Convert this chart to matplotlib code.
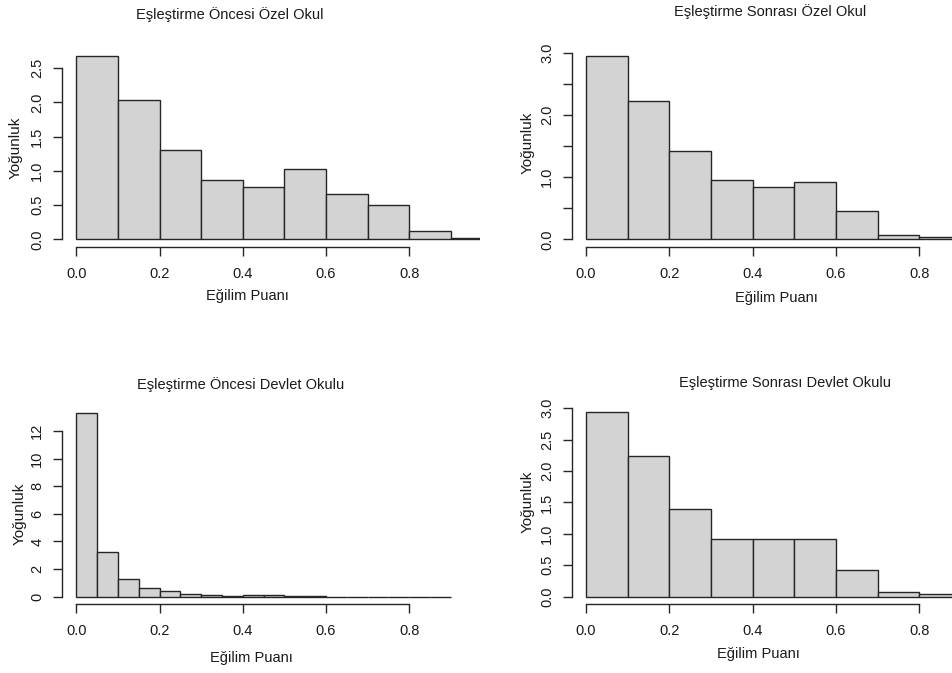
import matplotlib
matplotlib.use("Agg")
import matplotlib.pyplot as plt
import numpy as np
from matplotlib import font_manager

# --- data (density per bin) ---
bins_a = np.round(np.arange(0, 1.01, 0.1), 2)
ozel_once = [2.68, 2.03, 1.30, 0.86, 0.765, 1.02, 0.66, 0.50, 0.126, 0.012]

bins_b = np.round(np.arange(0, 0.91, 0.1), 2)
ozel_sonra = [2.956, 2.235, 1.43, 0.95, 0.845, 0.93, 0.46, 0.065, 0.043]

bins_c = np.round(np.arange(0, 0.91, 0.05), 2)
devlet_once = [13.32, 3.26, 1.26, 0.62, 0.38, 0.20, 0.12, 0.05, 0.12, 0.12,
               0.05, 0.05, 0.0, 0.0, 0.0, 0.0, 0.0, 0.0]

bins_d = np.round(np.arange(0, 0.91, 0.1), 2)
devlet_sonra = [2.935, 2.245, 1.40, 0.924, 0.924, 0.924, 0.43, 0.07, 0.048]

xticks = [0.0, 0.2, 0.4, 0.6, 0.8]

W, H = 953, 673
names = {f.name for f in font_manager.fontManager.ttflist}
FONT = "Liberation Sans Narrow" if "Liberation Sans Narrow" in names else "Liberation Sans"
plt.rcParams["font.family"] = [FONT, "DejaVu Sans"]
TXT = "#1a1a1a"

fig = plt.figure(figsize=(W / 100, H / 100), dpi=100)


def px(x, y):
    return x / W, 1 - y / H


def panel(box, xlim, ylim, edges, dens, yticks, ylabels, title, tpos, xlpos, ylpos, xoff, yoff):
    left, top, right, bottom = box
    ax = fig.add_axes([left / W, 1 - bottom / H, (right - left) / W, (bottom - top) / H])
    edges = np.asarray(edges)
    ax.bar(edges[:-1], dens, width=np.diff(edges), align="edge",
           color="#d3d3d3", edgecolor="#262626", linewidth=1.0)
    ax.set_xlim(xlim)
    ax.set_ylim(ylim)
    for s in ("top", "right"):
        ax.spines[s].set_visible(False)
    ax.spines["left"].set_position(("outward", yoff * 0.72))
    ax.spines["bottom"].set_position(("outward", xoff * 0.72))
    ax.spines["left"].set_bounds(yticks[0], yticks[-1])
    ax.spines["bottom"].set_bounds(xticks[0], xticks[-1])
    for s in ("left", "bottom"):
        ax.spines[s].set_color("#262626")
        ax.spines[s].set_linewidth(1.0)
    ax.set_xticks(xticks)
    ax.set_xticklabels([f"{t:.1f}" for t in xticks])
    ax.set_yticks(yticks)
    ax.set_yticklabels(ylabels)
    ax.tick_params(axis="both", length=6.5, width=1.0, color="#262626",
                   labelsize=10.5, labelcolor=TXT)
    ax.tick_params(axis="x", pad=8)
    ax.tick_params(axis="y", pad=6, labelrotation=90)
    for lab in ax.get_yticklabels():
        lab.set_va("center")
    fig.text(*px(*tpos), title, ha="center", va="center", fontsize=10.5, color=TXT)
    fig.text(*px(*xlpos), "Eğilim Puanı", ha="center", va="center", fontsize=10.5, color=TXT)
    fig.text(*px(*ylpos), "Yoğunluk", ha="center", va="center", fontsize=11,
             rotation=90, color=TXT)
    return ax


yt_a = [0.0, 0.5, 1.0, 1.5, 2.0, 2.5]
panel((68, 45, 480, 242), (-0.02, 0.970), (-0.04, 2.84), bins_a, ozel_once,
      yt_a, [f"{v:.1f}" for v in yt_a],
      "Eşleştirme Öncesi Özel Okul", (230, 15), (247, 296), (16, 148), 4.7, 6.3)

yt_b = [0.0, 0.5, 1.0, 1.5, 2.0, 2.5, 3.0]
panel((578, 45, 953, 242), (-0.019, 0.881), (-0.044, 3.13), bins_b, ozel_sonra,
      yt_b, [f"{v:.1f}" if v in (0.0, 1.0, 2.0, 3.0) else "" for v in yt_b],
      "Eşleştirme Sonrası Özel Okul", (770, 12), (776, 298), (528, 143), 4.7, 6.3)

yt_c = [0, 2, 4, 6, 8, 10, 12]
panel((68, 400, 470, 599), (-0.02, 0.946), (-0.167, 14.24), bins_c, devlet_once,
      yt_c, [str(v) for v in yt_c],
      "Eşleştirme Öncesi Devlet Okulu", (241, 385), (251, 658), (20, 514), 5.3, 6.3)

yt_d = [0.0, 0.5, 1.0, 1.5, 2.0, 2.5, 3.0]
panel((578, 400, 953, 599), (-0.019, 0.881), (-0.037, 3.13), bins_d, devlet_sonra,
      yt_d, [f"{v:.1f}" for v in yt_d],
      "Eşleştirme Sonrası Devlet Okulu", (785, 383), (758, 654), (528, 502), 5.0, 6.3)

fig.savefig("out.png", dpi=100)
